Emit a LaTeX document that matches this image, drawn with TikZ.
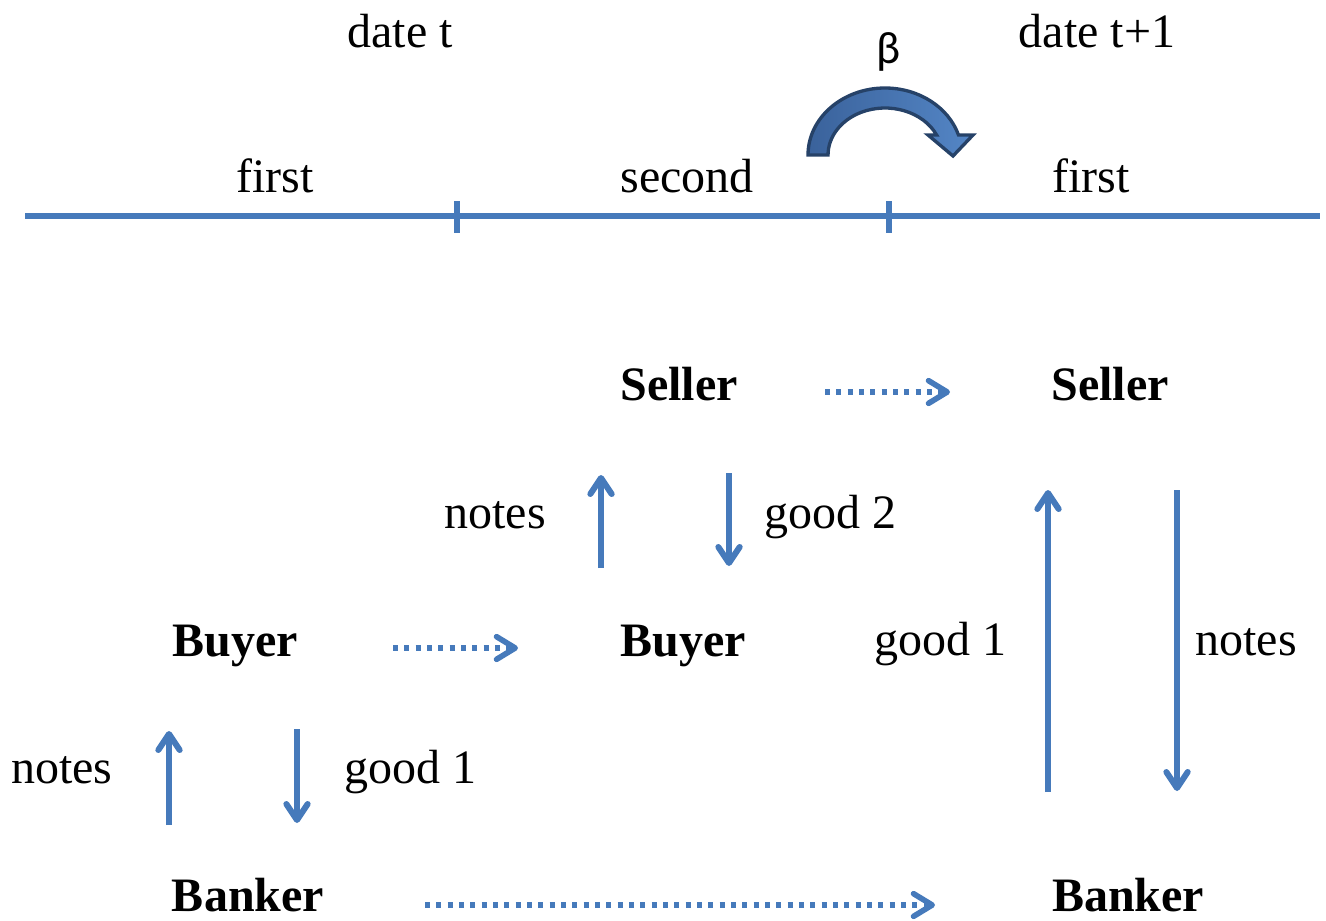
\documentclass[tikz,border=0pt]{standalone}
\usepackage{fontspec}
\setmainfont{Liberation Serif}
\newfontfamily\betafont{Carlito}
\usetikzlibrary{arrows.meta}
\definecolor{lineblue}{RGB}{70,122,187}
\definecolor{arcdark}{RGB}{38,66,104}
\definecolor{arcmid}{RGB}{58,98,155}
\definecolor{arclight}{RGB}{84,134,198}
\begin{document}
\begin{tikzpicture}[x=0.75pt,y=-0.75pt,
  lbl/.style={font=\fontsize{36}{40}\selectfont, anchor=base, inner sep=0pt},
  agent/.style={font=\fontsize{36}{40}\selectfont\bfseries, anchor=base, inner sep=0pt},
  flow/.style={draw=lineblue, line width=4.5pt, -{Straight Barb[length=12pt,width=16pt,round]}},
  later/.style={draw=lineblue, line width=4.2pt, dash pattern=on 3.8pt off 4.7pt, -{Straight Barb[length=14pt,width=17pt,round]}},
  axis/.style={draw=lineblue, line width=4.4pt}]
\useasboundingbox (0,0) rectangle (1326,920);

% time line
\coordinate (tl) at (25,216);
\coordinate (tr) at (1320,216);
\coordinate (k1a) at (457,201); \coordinate (k1b) at (457,233);
\coordinate (k2a) at (889,201); \coordinate (k2b) at (889,233);
\draw[axis] (tl) -- (tr);
\draw[axis] (k1a) -- (k1b);
\draw[axis] (k2a) -- (k2b);

\node[lbl] (datet) at (400,48) {date t};
\node[lbl] (datet1) at (1097,48) {date t+1};
\node[lbl] (first1) at (275,192) {first};
\node[lbl] (second) at (687,192) {second};
\node[lbl] (first2) at (1091,192) {first};
\node[font=\betafont\fontsize{34}{38}\selectfont, anchor=base, inner sep=0pt] (beta) at (889,64) {β};

% curved discount arrow
\path[draw=arcdark, line width=2.5pt, left color=arcmid, right color=arclight, line join=miter]
  (808,155) arc[start angle=180, end angle=342.6, x radius=77, y radius=67]
  -- (973,135) -- (953,156) -- (928,135) -- (936.6,135)
  arc[start angle=334.8, end angle=180, x radius=57, y radius=47] -- cycle;

% agents
\node[agent] (seller1) at (679,400) {Seller};
\node[agent] (seller2) at (1110,400) {Seller};
\node[agent] (buyer1) at (235,656) {Buyer};
\node[agent] (buyer2) at (683,656) {Buyer};
\node[agent] (banker1) at (248,911) {Banker};
\node[agent] (banker2) at (1128,911) {Banker};

% flow labels
\node[lbl] (lnotes1) at (495,528) {notes};
\node[lbl] (lgood2) at (830,528) {good 2};
\node[lbl] (lgood1r) at (940,655) {good 1};
\node[lbl] (lnotesr) at (1246,655) {notes};
\node[lbl] (lnotesl) at (62,783) {notes};
\node[lbl] (lgood1l) at (410,783) {good 1};

% solid flows
\coordinate (a1) at (601,568); \coordinate (b1) at (601,475);
\coordinate (a2) at (729,473); \coordinate (b2) at (729,566);
\coordinate (a3) at (1048,792); \coordinate (b3) at (1048,490);
\coordinate (a4) at (1177,490); \coordinate (b4) at (1177,791);
\coordinate (a5) at (169,825); \coordinate (b5) at (169,731);
\coordinate (a6) at (297,729); \coordinate (b6) at (297,823);
\draw[flow] (a1) -- (b1);
\draw[flow] (a2) -- (b2);
\draw[flow] (a3) -- (b3);
\draw[flow] (a4) -- (b4);
\draw[flow] (a5) -- (b5);
\draw[flow] (a6) -- (b6);

% dotted continuation arrows
\coordinate (d1a) at (825,392); \coordinate (d1b) at (950,392);
\coordinate (d2a) at (393,648); \coordinate (d2b) at (518,648);
\coordinate (d3a) at (425,905); \coordinate (d3b) at (935,905);
\draw[later] (d1a) -- (d1b);
\draw[later] (d2a) -- (d2b);
\draw[later] (d3a) -- (d3b);
\end{tikzpicture}
\end{document}
